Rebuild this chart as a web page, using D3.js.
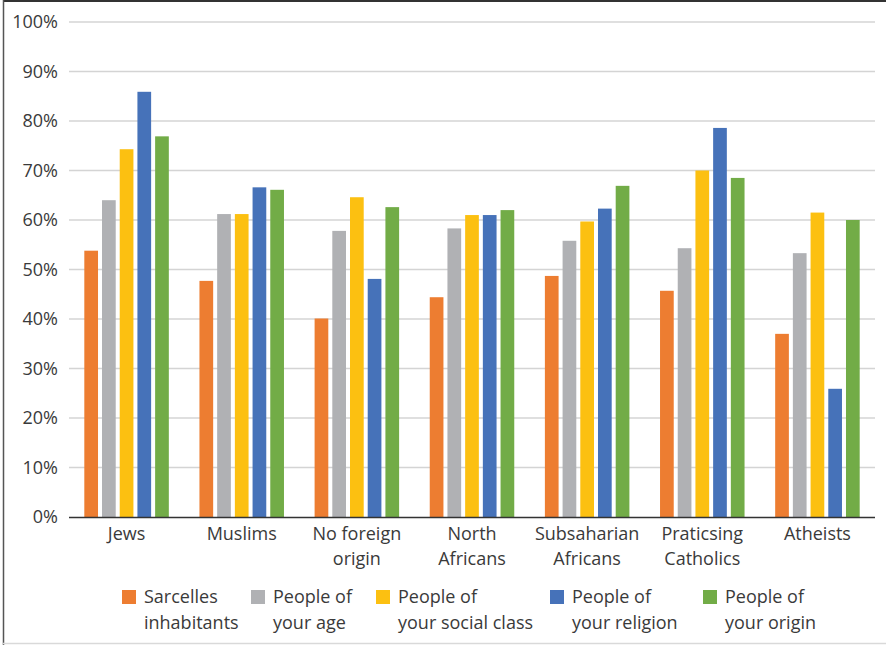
<!DOCTYPE html>
<html><head><meta charset="utf-8">
<script src="https://cdn.jsdelivr.net/npm/d3@7"></script>
<style>html,body{margin:0;padding:0;background:#fff;}svg{display:block;}</style>
</head><body>
<script>
const categories = [["Jews"],["Muslims"],["No foreign","origin"],["North","Africans"],["Subsaharian","Africans"],["Praticsing","Catholics"],["Atheists"]];
const seriesNames = [["Sarcelles","inhabitants"],["People of","your age"],["People of","your social class"],["People of","your religion"],["People of","your origin"]];
const seriesColors = ["#ED7D31","#B0B1B4","#FCC011","#4672B9","#72AC47"];
const sarcelles = [53.8,47.7,40.1,44.4,48.7,45.7,37.0];
const sameAge = [64.0,61.2,57.8,58.3,55.8,54.3,53.3];
const sameClass = [74.3,61.2,64.6,61.0,59.7,70.0,61.5];
const sameReligion = [85.9,66.6,48.1,61.0,62.3,78.6,25.9];
const sameOrigin = [76.9,66.1,62.6,62.0,66.9,68.5,60.0];
const yTicks = [0,10,20,30,40,50,60,70,80,90,100];
const legendX = [122,251,376,550,703];

(function(){
const series = [sarcelles, sameAge, sameClass, sameReligion, sameOrigin];
const W = 886, H = 645;
const svg = d3.select("body").append("svg").attr("width", W).attr("height", H)
  .style("font-family", "'Open Sans', sans-serif");

// frame
svg.append("line").attr("x1",3).attr("x2",W).attr("y1",1).attr("y2",1).attr("stroke","#333").attr("stroke-width",2);
svg.append("line").attr("x1",3.5).attr("x2",3.5).attr("y1",0).attr("y2",H).attr("stroke","#555").attr("stroke-width",1.5);
svg.append("line").attr("x1",3).attr("x2",W).attr("y1",643.5).attr("y2",643.5).attr("stroke","#d9d9d9").attr("stroke-width",1.5);

const pl = 69, pr = 875, pt = 22, pb = 517;
const catIdx = categories.map((d,i)=>i);
const x0 = d3.scaleBand().domain(catIdx).range([pl,pr]).paddingInner(0.266).paddingOuter(0.133);
const x1 = d3.scaleBand().domain(d3.range(series.length)).range([0,x0.bandwidth()]).paddingInner(0.226);
const y = d3.scaleLinear().domain([0,100]).range([pb,pt]);

// gridlines
svg.append("g").selectAll("line").data(yTicks.filter(t=>t>0)).join("line")
  .attr("x1",pl).attr("x2",pr).attr("y1",d=>y(d)).attr("y2",d=>y(d))
  .attr("stroke","#d4d4d4").attr("stroke-width",1.3);

// y axis labels
const yAxis = d3.axisLeft(y).tickValues(yTicks).tickFormat(d=>d+"%").tickSize(0).tickPadding(11);
const gy = svg.append("g").attr("transform",`translate(${pl},0)`).call(yAxis);
gy.select(".domain").remove();
gy.selectAll("text").attr("font-size",18).attr("fill","#3a3a3a").attr("font-family","'Open Sans', sans-serif");

// bars
categories.forEach((c,ci)=>{
  const g = svg.append("g").attr("transform",`translate(${x0(ci)},0)`);
  g.selectAll("rect").data(series.map((s,si)=>({si,v:s[ci]}))).join("rect")
    .attr("x",d=>x1(d.si)).attr("width",x1.bandwidth())
    .attr("y",d=>y(d.v)).attr("height",d=>y(0)-y(d.v))
    .attr("fill",d=>seriesColors[d.si]);
});

// x axis baseline
svg.append("line").attr("x1",pl).attr("x2",pr).attr("y1",pb+0.5).attr("y2",pb+0.5).attr("stroke","#333").attr("stroke-width",1.3);

// category labels
const xl = svg.append("g");
categories.forEach((c,ci)=>{
  const cx = x0(ci)+x0.bandwidth()/2;
  const t = xl.append("text").attr("text-anchor","middle").attr("font-size",18).attr("fill","#3a3a3a")
    .attr("x",cx).attr("y",540);
  c.forEach((line,li)=>t.append("tspan").attr("x",cx).attr("dy",li===0?0:25).text(line));
});

// legend
const lg = svg.append("g");
seriesNames.forEach((n,si)=>{
  const gx = legendX[si];
  lg.append("rect").attr("x",gx).attr("y",590).attr("width",14).attr("height",14).attr("fill",seriesColors[si]);
  const t = lg.append("text").attr("font-size",18).attr("fill","#3a3a3a").attr("x",gx+22).attr("y",603);
  n.forEach((line,li)=>t.append("tspan").attr("x",gx+22).attr("dy",li===0?0:25.5).text(line));
});
})();
</script>
</body></html>
